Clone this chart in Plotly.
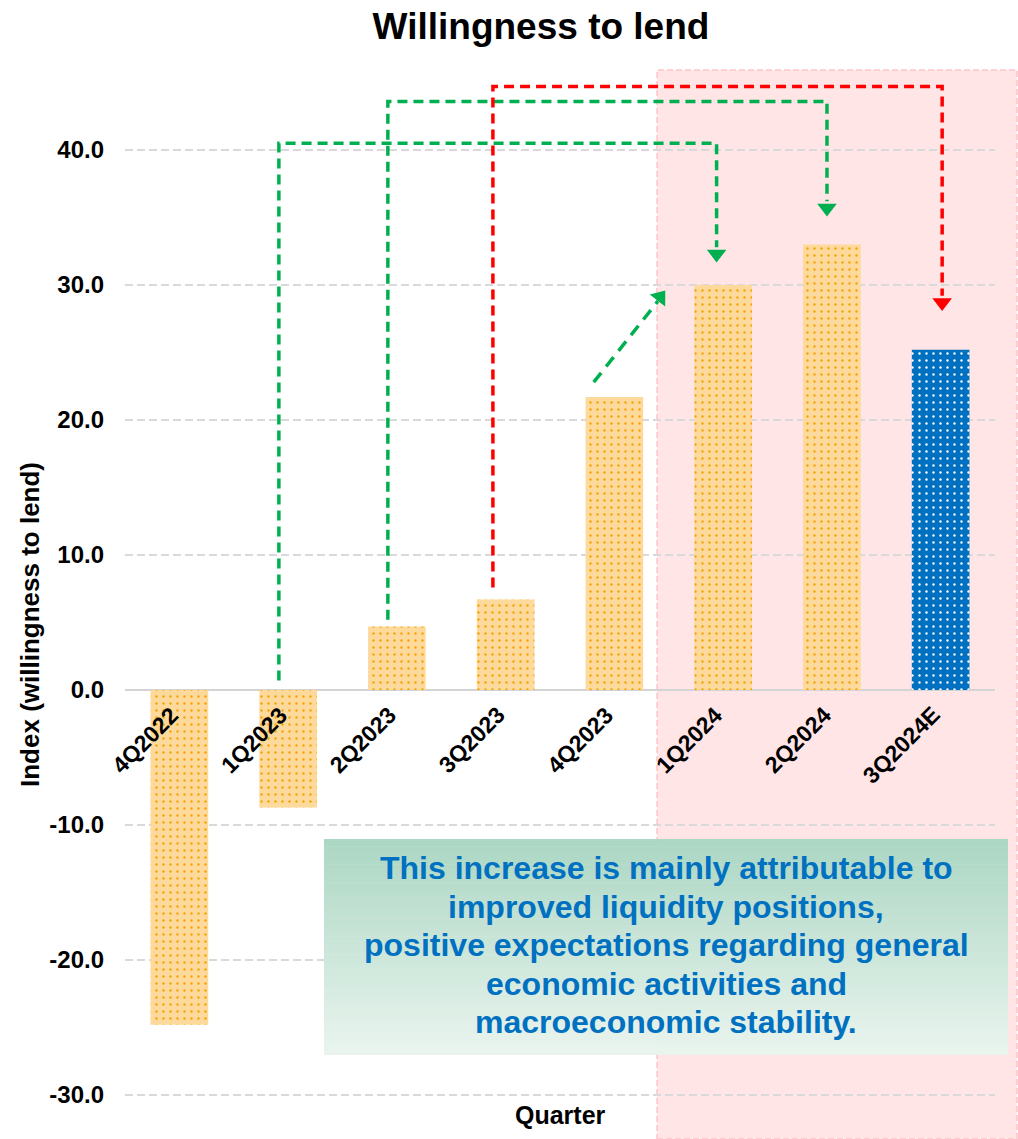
import plotly.graph_objects as go

# ---- data ----
quarters = ["4Q2022", "1Q2023", "2Q2023", "3Q2023", "4Q2023", "1Q2024", "2Q2024", "3Q2024E"]
index_values = [-24.8, -8.7, 4.7, 6.7, 21.7, 30.0, 33.0, 25.2]
is_estimate = [False, False, False, False, False, False, False, True]
y_ticks = [-30, -20, -10, 0, 10, 20, 30, 40]

note_lines = [
    "This increase is mainly attributable to",
    "improved liquidity positions,",
    "positive expectations regarding general",
    "economic activities and",
    "macroeconomic stability.",
]

# connector arrows: (x positions on the quarter scale, y values on the index scale)
green_path_a = ([0.915, 0.915, 4.94, 4.94], [0.7, 40.5, 40.5, 32.8])
green_path_b = ([1.917, 1.917, 5.955, 5.955], [5.2, 43.6, 43.6, 36.2])
red_path = ([2.883, 2.883, 7.014, 7.014], [7.6, 44.7, 44.7, 29.2])
diag_path = ([3.81, 4.40], [22.8, 28.8])

# ---- layout geometry (pixels) ----
W, H = 1018, 1139
ML, MR, MT, MB = 125, 23, 70, 39
PW, PH = W - ML - MR, H - MT - MB
FONT = "Arial, Liberation Sans, sans-serif"


def px_x(p):
    return (p - ML) / PW


def px_y(p):
    return (H - MB - p) / PH


ORANGE_BG = "#FDDA9C"
ORANGE_DOT = "#F5A300"
BLUE = "#0070C0"
GREEN = "#00B050"
RED = "#FF0000"

fig = go.Figure()

# bars: actual quarters in light orange with orange dots, the estimate in blue with white dots
for est, bg, dot in [(False, ORANGE_BG, ORANGE_DOT), (True, BLUE, "#FFFFFF")]:
    idx = [i for i, e in enumerate(is_estimate) if e == est]
    fig.add_trace(go.Bar(
        x=idx, y=[index_values[i] for i in idx], width=0.53,
        marker=dict(
            color=bg,
            line=dict(width=0),
            pattern=dict(shape=".", size=7, solidity=0.09,
                         fgcolor=dot, bgcolor=bg, fgopacity=1, fillmode="replace"),
        ),
        showlegend=False, hoverinfo="skip",
    ))

# dashed connector arrows with triangular heads
for (px_, py_), col in [(green_path_a, GREEN), (green_path_b, GREEN), (red_path, RED)]:
    fig.add_trace(go.Scatter(
        x=px_, y=py_, mode="lines",
        line=dict(color=col, width=3.5, dash="10px,6px"),
        showlegend=False, hoverinfo="skip",
    ))
    fig.add_trace(go.Scatter(
        x=[px_[-1]], y=[py_[-1] - 0.5], mode="markers",
        marker=dict(symbol="triangle-down", size=17, color=col, line=dict(width=0)),
        showlegend=False, hoverinfo="skip", cliponaxis=False,
    ))

fig.add_trace(go.Scatter(
    x=diag_path[0], y=diag_path[1], mode="lines",
    line=dict(color=GREEN, width=3.5, dash="12px,8px"),
    showlegend=False, hoverinfo="skip",
))
fig.add_trace(go.Scatter(
    x=[diag_path[0][-1] + 0.02], y=[diag_path[1][-1] + 0.3], mode="markers",
    marker=dict(symbol="triangle-up", size=17, angle=38, color=GREEN, line=dict(width=0)),
    showlegend=False, hoverinfo="skip",
))

shapes = []
# shaded 2024 region
shapes.append(dict(
    type="rect", xref="paper", yref="paper",
    x0=px_x(657), x1=px_x(1017), y0=px_y(1139), y1=px_y(70),
    fillcolor="#FFE5E6", line=dict(color="#FFC4CC", width=1.5, dash="6px,3px"),
    layer="below",
))

# gradient note box built from thin horizontal bands
bx0, bx1, by0, by1 = 324, 1008, 839, 1055
top_rgb = (172, 215, 196)
bot_rgb = (233, 244, 238)
n_bands = 60
for i in range(n_bands):
    t = i / (n_bands - 1)
    c = tuple(round(top_rgb[k] + (bot_rgb[k] - top_rgb[k]) * t) for k in range(3))
    ya = by0 + (by1 - by0) * i / n_bands
    yb = by0 + (by1 - by0) * (i + 1) / n_bands + 0.6
    shapes.append(dict(
        type="rect", xref="paper", yref="paper",
        x0=px_x(bx0), x1=px_x(bx1), y0=px_y(min(yb, by1)), y1=px_y(ya),
        fillcolor="rgb(%d,%d,%d)" % c, line=dict(width=0), layer="above",
    ))

annotations = []
# note text
line_y = [868, 907, 945, 984, 1022]
for txt, ly in zip(note_lines, line_y):
    annotations.append(dict(
        x=px_x(666), y=px_y(ly), xref="paper", yref="paper",
        text="<b>%s</b>" % txt, showarrow=False,
        xanchor="center", yanchor="middle",
        font=dict(family=FONT, size=32, color=BLUE),
    ))

# rotated quarter labels hanging from the zero line
for i, q in enumerate(quarters):
    annotations.append(dict(
        x=i, y=0, xref="x", yref="y",
        text="<b>%s</b>" % q, showarrow=False, textangle=-45,
        xanchor="right", yanchor="top", xshift=7, yshift=-9,
        font=dict(family=FONT, size=23, color="#000000"),
    ))

# axis titles
annotations.append(dict(
    x=px_x(30), y=px_y(625), xref="paper", yref="paper",
    text="<b>Index (willingness to lend)</b>", showarrow=False, textangle=-90,
    xanchor="center", yanchor="middle",
    font=dict(family=FONT, size=26, color="#000000"),
))
annotations.append(dict(
    x=px_x(560), y=px_y(1115), xref="paper", yref="paper",
    text="<b>Quarter</b>", showarrow=False,
    xanchor="center", yanchor="middle",
    font=dict(family=FONT, size=25, color="#000000"),
))

fig.update_layout(
    width=W, height=H,
    margin=dict(l=ML, r=MR, t=MT, b=MB, pad=0),
    paper_bgcolor="white", plot_bgcolor="rgba(0,0,0,0)",
    title=dict(text="<b>Willingness to lend</b>", x=541 / W,
               xanchor="center", y=1 - 26 / H, yanchor="middle",
               font=dict(family=FONT, size=37, color="#000000")),
    shapes=shapes, annotations=annotations,
    showlegend=False, barmode="overlay",
    xaxis=dict(range=[-0.5, len(quarters) - 0.5], showticklabels=False, showgrid=False,
               zeroline=False, showline=False, ticks=""),
    yaxis=dict(range=[-30 - 5 / 13.5, 40 + 80 / 13.5], tickvals=y_ticks,
               ticktext=["<b>%.1f</b>" % v for v in y_ticks],
               tickfont=dict(family=FONT, size=24, color="#000000"),
               showgrid=True, gridcolor="#D9D9D9", gridwidth=2, griddash="8px,4px",
               zeroline=True, zerolinecolor="#D4D4D4", zerolinewidth=2,
               showline=False, ticks="", ticklabelstandoff=20),
)

fig.write_html("out.html")
